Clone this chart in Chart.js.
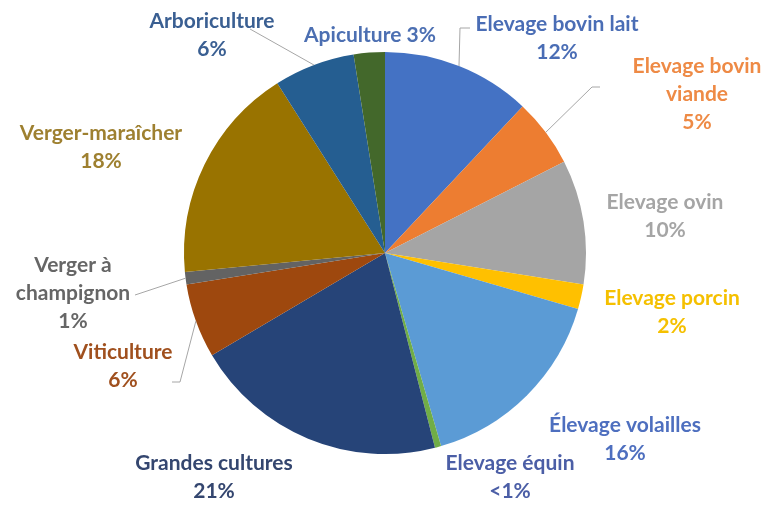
<!DOCTYPE html>
<html>
<head>
<meta charset="utf-8">
<script src="https://cdn.jsdelivr.net/npm/chart.js@4"></script>
<style>
  html, body { margin: 0; padding: 0; background: #fff; }
  #wrap { width: 766px; height: 505px; position: relative; }
</style>
</head>
<body>
<div id="wrap"><canvas id="pieChart" width="766" height="505"></canvas></div>
<script>
// chart data
const categories = [
    "Elevage bovin lait", "Elevage bovin viande", "Elevage ovin", "Elevage porcin",
    "Élevage volailles", "Elevage équin", "Grandes cultures", "Viticulture",
    "Verger à champignon", "Verger-maraîcher", "Arboriculture", "Apiculture"
];
const shares = [12, 5.5, 10, 2, 16, 0.5, 20.5, 6, 1, 17.5, 6.5, 2.5];
const pctLabels = ["12%", "5%", "10%", "2%", "16%", "<1%", "21%", "6%", "1%", "18%", "6%", "3%"];
// how each label is broken into lines
const labelLines = [
    ["Elevage bovin lait", "12%"],
    ["Elevage bovin", "viande", "5%"],
    ["Elevage ovin", "10%"],
    ["Elevage porcin", "2%"],
    ["Élevage volailles", "16%"],
    ["Elevage équin", "<1%"],
    ["Grandes cultures", "21%"],
    ["Viticulture", "6%"],
    ["Verger à", "champignon", "1%"],
    ["Verger-maraîcher", "18%"],
    ["Arboriculture", "6%"],
    ["Apiculture 3%"]
];

const sliceColors = [
    "#4472C4", "#ED7D31", "#A5A5A5", "#FFC000", "#5B9BD5", "#70AD47",
    "#264478", "#9E480E", "#636363", "#997300", "#255E91", "#43682B"
];
const textColors = [
    "#4A6DB5", "#EE8A45", "#A5A5A5", "#F5C000", "#4E6FBF", "#4B5EA6",
    "#34466F", "#A0501E", "#666666", "#9E8030", "#3A5F92", "#4C6FB2"
];

// label placement, offsets from the pie centre (first line centre, leader start)
const labelLayout = [
    { x: 172, y: -229, leader: [[85, -225], [75, -225]] },
    { x: 312, y: -187, leader: [[215, -166], [207, -166]] },
    { x: 280, y: -51 },
    { x: 287, y: 45 },
    { x: 240, y: 172 },
    { x: 125, y: 210 },
    { x: -171, y: 210 },
    { x: -262, y: 99, leader: [[-213, 129], [-205, 129]] },
    { x: -312, y: 12, leader: [[-250, 42]] },
    { x: -284, y: -120 },
    { x: -173, y: -232, leader: [[-135, -224]] },
    { x: -15, y: -218 }
];
const lineHeight = 28;

const labelPlugin = {
    id: "outsideLabels",
    afterDraw(chart) {
        const ctx = chart.ctx;
        const meta = chart.getDatasetMeta(0);
        ctx.save();
        ctx.font = "bold 21px Lato";
        ctx.textAlign = "center";
        ctx.textBaseline = "middle";
        meta.data.forEach((arc, i) => {
            const cx = arc.x, cy = arc.y, r = arc.outerRadius;
            const lay = labelLayout[i];
            // leader line to the middle of the slice edge
            if (lay.leader) {
                const mid = (arc.startAngle + arc.endAngle) / 2;
                ctx.strokeStyle = "#A6A6A6";
                ctx.lineWidth = 1;
                ctx.beginPath();
                lay.leader.forEach((p, k) => {
                    if (k === 0) ctx.moveTo(cx + p[0], cy + p[1]);
                    else ctx.lineTo(cx + p[0], cy + p[1]);
                });
                ctx.lineTo(cx + r * Math.cos(mid), cy + r * Math.sin(mid));
                ctx.stroke();
            }
            ctx.fillStyle = textColors[i];
            labelLines[i].forEach((txt, k) => {
                ctx.fillText(txt, cx + lay.x, cy + lay.y + k * lineHeight);
            });
        });
        ctx.restore();
    }
};

const ctx = document.getElementById("pieChart").getContext("2d");
const pieChart = new Chart(ctx, {
    type: "pie",
    data: {
        labels: categories,
        datasets: [{
            data: shares,
            backgroundColor: sliceColors,
            borderWidth: 0
        }]
    },
    options: {
        responsive: false,
        animation: false,
        layout: { padding: { left: 184, right: 180, top: 52, bottom: 51 } },
        plugins: {
            legend: { display: false },
            tooltip: { enabled: false }
        }
    },
    plugins: [labelPlugin]
});
</script>
</body>
</html>
